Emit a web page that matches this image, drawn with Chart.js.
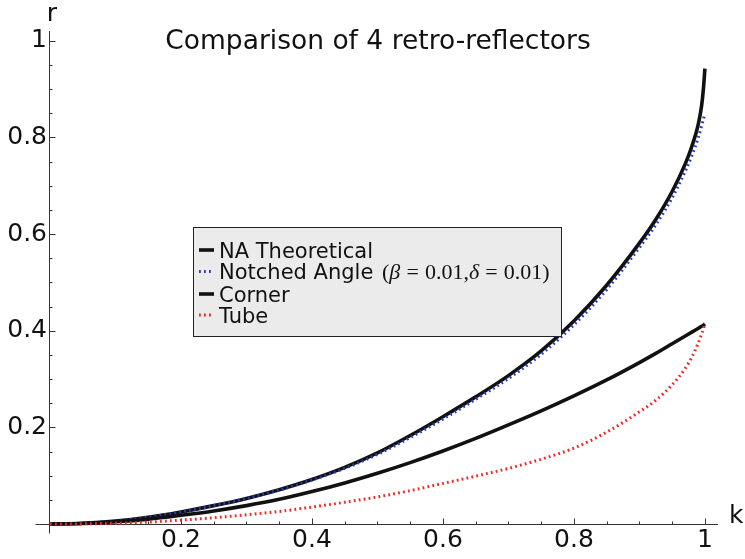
<!DOCTYPE html>
<html><head><meta charset="utf-8">
<script src="https://cdn.jsdelivr.net/npm/chart.js@4/dist/chart.umd.min.js"></script>
<style>html,body{margin:0;padding:0;background:#fff}canvas{display:block}</style>
</head><body>
<canvas id="c" width="745" height="559"></canvas>
<script>
// ---- data ----
const kValues       = [0, 0.05, 0.1, 0.15, 0.2, 0.25, 0.3, 0.35, 0.4, 0.45, 0.5, 0.55, 0.6, 0.65, 0.7, 0.75, 0.8, 0.85, 0.9, 0.925, 0.95, 0.97, 0.98, 0.99, 0.995, 0.998, 1.0];
const naTheoretical = [0, 0.0015, 0.006, 0.014, 0.025, 0.038, 0.053, 0.071, 0.092, 0.117, 0.147, 0.183, 0.222, 0.263, 0.307, 0.358, 0.420, 0.494, 0.581, 0.630, 0.688, 0.745, 0.781, 0.828, 0.866, 0.905, 0.942];
const notchedAngle  = [0, 0.0015, 0.006, 0.014, 0.025, 0.038, 0.053, 0.070, 0.091, 0.115, 0.144, 0.179, 0.217, 0.258, 0.301, 0.351, 0.412, 0.485, 0.572, 0.619, 0.675, 0.730, 0.762, 0.800, 0.824, 0.839, 0.849];
const corner        = [0, 0.001, 0.0045, 0.010, 0.018, 0.027, 0.038, 0.051, 0.067, 0.085, 0.105, 0.127, 0.151, 0.177, 0.205, 0.234, 0.265, 0.298, 0.334, 0.353, 0.373, 0.389, 0.397, 0.405, 0.409, 0.4115, 0.414];
const tube          = [0, 0.0003, 0.0015, 0.004, 0.008, 0.013, 0.019, 0.026, 0.035, 0.045, 0.056, 0.069, 0.084, 0.099, 0.115, 0.134, 0.157, 0.190, 0.232, 0.256, 0.288, 0.322, 0.345, 0.375, 0.393, 0.405, 0.414];
const seriesLabels  = ['NA Theoretical', 'Notched Angle (β=0.01,δ=0.01)', 'Corner', 'Tube'];

const xTickValues = [0.2, 0.4, 0.6, 0.8, 1];
const xTickLabels = ['0.2', '0.4', '0.6', '0.8', '1'];
const yTickValues = [0.2, 0.4, 0.6, 0.8, 1];
const yTickLabels = ['0.2', '0.4', '0.6', '0.8', '1'];
const xMinorTicks = [0.05, 0.1, 0.15, 0.25, 0.3, 0.35, 0.45, 0.5, 0.55, 0.65, 0.7, 0.75, 0.85, 0.9, 0.95];
const yMinorTicks = [0.05, 0.1, 0.15, 0.25, 0.3, 0.35, 0.45, 0.5, 0.55, 0.65, 0.7, 0.75, 0.85, 0.9, 0.95];
const titleText = 'Comparison of 4 retro-reflectors';
const xAxisName = 'k';
const yAxisName = 'r';

const pts = ys => kValues.map((k, i) => ({x: k, y: ys[i]}));
const SANS = '"DejaVu Sans"';
const TXT = '#111';

function drawMath(ctx, s, x, y, size) {
  const sp = size * 5 / 18;
  for (const ch of s) {
    const greek = /[\u03b1-\u03c9]/.test(ch);
    ctx.font = (greek ? 'italic ' : '') + size + 'px "Liberation Serif"';
    if (ch === '=') x += sp;
    ctx.fillText(ch, x, y);
    x += ctx.measureText(ch).width;
    if (ch === '=') x += sp;
  }
}

const axesPlugin = {
  id: 'sageAxes',
  beforeDatasetsDraw(chart) {
    const {ctx, chartArea: a, scales: {x, y}} = chart;
    const x0 = Math.round(x.getPixelForValue(0)) - 0.5;
    const y0 = Math.round(y.getPixelForValue(0)) + 0.5;
    ctx.save();
    ctx.strokeStyle = '#333'; ctx.lineWidth = 1; ctx.setLineDash([]);
    ctx.beginPath();
    ctx.moveTo(x0 - 14, y0); ctx.lineTo(a.right, y0);
    ctx.moveTo(x0, a.top); ctx.lineTo(x0, y0 + 9);
    const tx = (v, len) => { const p = Math.round(x.getPixelForValue(v)) + 0.5; ctx.moveTo(p, y0); ctx.lineTo(p, y0 - len); };
    const ty = (v, len) => { const p = Math.round(y.getPixelForValue(v)) + 0.5; ctx.moveTo(x0, p); ctx.lineTo(x0 + len, p); };
    xTickValues.forEach(v => tx(v, 6)); xMinorTicks.forEach(v => tx(v, 3));
    yTickValues.forEach(v => ty(v, 6)); yMinorTicks.forEach(v => ty(v, 3));
    ctx.stroke();
    // title and axis names
    ctx.fillStyle = TXT; ctx.textBaseline = 'alphabetic';
    ctx.font = '26.5px ' + SANS; ctx.textAlign = 'center';
    ctx.fillText(titleText, 378, 49);
    ctx.font = '25px ' + SANS;
    ctx.fillText(yAxisName, 52, 21);
    ctx.textAlign = 'left';
    ctx.fillText(xAxisName, 729, 523);
    ctx.restore();
  }
};

const legendPlugin = {
  id: 'boxLegend',
  afterDatasetsDraw(chart) {
    const ctx = chart.ctx;
    ctx.save();
    ctx.fillStyle = '#ebebeb';
    ctx.fillRect(193.5, 227.5, 368, 109);
    ctx.strokeStyle = '#222'; ctx.lineWidth = 1; ctx.setLineDash([]);
    ctx.strokeRect(193.5, 227.5, 368, 109);
    const baselines = [257.5, 279, 301.5, 322.5];
    chart.data.datasets.forEach((ds, i) => {
      const yb = baselines[i];
      ctx.beginPath();
      ctx.strokeStyle = ds.borderColor; ctx.lineWidth = ds.borderWidth; ctx.lineCap = 'butt';
      ctx.setLineDash(ds.borderDash || []);
      ctx.moveTo(199, yb - 7.5); ctx.lineTo(214, yb - 7.5); ctx.stroke();
      ctx.setLineDash([]);
      ctx.fillStyle = TXT; ctx.textAlign = 'left'; ctx.textBaseline = 'alphabetic';
      ctx.font = '21px ' + SANS;
      const lab = ds.label, p = lab.indexOf('(');
      if (p < 0) { ctx.fillText(lab, 219, yb); }
      else {
        const head = lab.slice(0, p);
        ctx.fillText(head, 219, yb);
        drawMath(ctx, lab.slice(p), 219 + ctx.measureText(head).width + 2, yb, 22);
      }
    });
    ctx.restore();
  }
};

const dotted = [1.8, 3.2];
new Chart(document.getElementById('c'), {
  type: 'line',
  data: {
    datasets: [
      {label: seriesLabels[0], data: pts(naTheoretical), borderColor: '#111', borderWidth: 3.6, order: 4},
      {label: seriesLabels[1], data: pts(notchedAngle), borderColor: '#2a3cb4', borderWidth: 3, borderDash: dotted, order: 3},
      {label: seriesLabels[2], data: pts(corner), borderColor: '#111', borderWidth: 3.6, order: 2},
      {label: seriesLabels[3], data: pts(tube), borderColor: '#f02828', borderWidth: 3, borderDash: dotted, order: 1}
    ]
  },
  options: {
    responsive: false, animation: false, devicePixelRatio: 1,
    layout: {padding: {top: 31, right: 27, left: 0, bottom: 0}},
    elements: {point: {radius: 0}, line: {cubicInterpolationMode: 'monotone', borderCapStyle: 'butt', fill: false}},
    datasets: {line: {clip: false}},
    plugins: {legend: {display: false}, title: {display: false}, tooltip: {enabled: false}},
    scales: {
      x: {
        type: 'linear', min: 0, max: 1.02,
        afterFit(s) { s.height = 35; },
        afterBuildTicks(s) { s.ticks = xTickValues.map(v => ({value: v})); },
        ticks: {callback: (v, i) => xTickLabels[i], font: {family: 'DejaVu Sans', size: 25}, color: TXT, padding: 1, maxRotation: 0, autoSkip: false},
        grid: {display: false, drawTicks: false}, border: {display: false}
      },
      y: {
        type: 'linear', min: 0, max: 1.02,
        afterFit(s) { s.width = 50; },
        afterBuildTicks(s) { s.ticks = yTickValues.map(v => ({value: v})); },
        ticks: {callback: (v, i) => yTickLabels[i], font: {family: 'DejaVu Sans', size: 25}, color: TXT, padding: 3, autoSkip: false},
        grid: {display: false, drawTicks: false}, border: {display: false}
      }
    }
  },
  plugins: [axesPlugin, legendPlugin]
});
</script>
</body></html>
